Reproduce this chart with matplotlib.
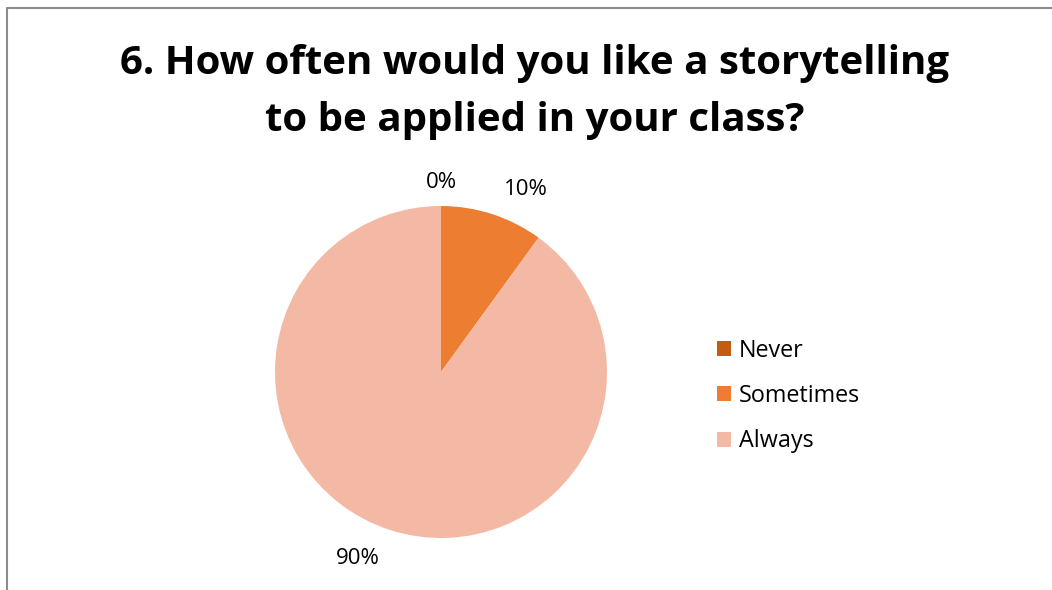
import numpy as np
import matplotlib.pyplot as plt
from matplotlib.lines import Line2D

plt.rcParams['font.family'] = ['Open Sans', 'DejaVu Sans']

labels = ['Never', 'Sometimes', 'Always']
shares = [0, 10, 90]
colors = ['#C55A11', '#ED7D31', '#F4B9A4']
title = '6. How often would you like a storytelling\nto be applied in your class?'

W, H = 1052, 590
fig = plt.figure(figsize=(W / 100, H / 100), dpi=100, facecolor='white')

# pie centred at (441, 372) px with radius 166 px
cx, cy, r = 441, 372, 166
ax = fig.add_axes([(cx - r) / W, (H - cy - r) / H, 2 * r / W, 2 * r / H])
wedges, _ = ax.pie(shares, colors=colors, startangle=90, counterclock=False,
                   radius=1, wedgeprops=dict(linewidth=0))
ax.set_xlim(-1, 1)
ax.set_ylim(-1, 1)
ax.set_aspect('equal')
ax.axis('off')

# value labels, placed just outside each slice
label_pos = [(1.14, 0), (1.21, -7), (1.23, -6)]
for w, v, (dist, dang) in zip(wedges, shares, label_pos):
    ang = np.deg2rad((w.theta1 + w.theta2) / 2 + dang)
    ax.text(dist * np.cos(ang), dist * np.sin(ang), f'{v}%',
            ha='center', va='center', fontsize=16, color='black', clip_on=False)

fig.text(535 / W, 1 - 92 / H, title, ha='center', va='center',
         fontsize=29, fontweight='bold', color='black', linespacing=1.62)

fig.legend(wedges, labels, loc='center left', bbox_to_anchor=(705 / W, 1 - 396 / H),
           frameon=False, fontsize=16.8, handlelength=0.6, handleheight=0.6,
           handletextpad=0.35, labelspacing=0.92, borderpad=0)

# outer frame on the top and left
fig.add_artist(Line2D([7 / W, 7 / W, 1], [0, 1 - 8 / H, 1 - 8 / H],
                      transform=fig.transFigure, color='#8c8c8c', linewidth=1.5))

fig.savefig('out.png', dpi=100)
